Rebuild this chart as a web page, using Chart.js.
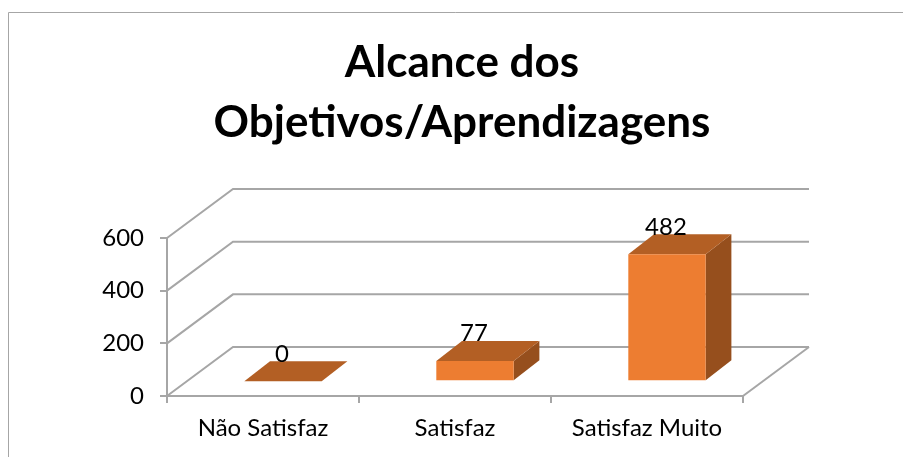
<!DOCTYPE html>
<html>
<head>
<meta charset="utf-8">
<script src="https://cdn.jsdelivr.net/npm/chart.js@4/dist/chart.umd.min.js"></script>
<style>
html,body{margin:0;padding:0;background:#fff;}
canvas{display:block;}
</style>
</head>
<body>
<canvas id="c" width="903" height="457"></canvas>
<script>
const categories = ['Não Satisfaz', 'Satisfaz', 'Satisfaz Muito'];
const values = [0, 77, 482];
const titleLines = ['Alcance dos', 'Objetivos/Aprendizagens'];
const yTickStep = 200;
const yMax = 600;

const FONT = 'Lato, "Open Sans", sans-serif';
const FRONT = '#ED7D31', TOP = '#B35F24', SIDE = '#964F1D', GRID = '#A6A6A6';
const WALL_DX = 66, WALL_DY = 49;      // depth of the floor
const BAR_DX = 20, BAR_DY = 14.7;      // bar's offset into the floor
const DEPTH_DX = 25.7, DEPTH_DY = 20;  // bar's own depth

const poly = (ctx, pts, fill) => {
  ctx.beginPath();
  pts.forEach((p, i) => i ? ctx.lineTo(p[0], p[1]) : ctx.moveTo(p[0], p[1]));
  ctx.closePath();
  ctx.fillStyle = fill;
  ctx.fill();
};

const threeD = {
  id: 'threeD',
  beforeDraw(chart) {
    const ctx = chart.ctx;
    ctx.save();
    ctx.strokeStyle = GRID;
    ctx.lineWidth = 1;
    ctx.beginPath();
    ctx.moveTo(8.5, chart.height);
    ctx.lineTo(8.5, 12.5);
    ctx.lineTo(chart.width, 12.5);
    ctx.stroke();
    ctx.restore();
  },
  beforeDatasetsDraw(chart) {
    const ctx = chart.ctx, a = chart.chartArea, y = chart.scales.y;
    ctx.save();
    ctx.strokeStyle = GRID;
    ctx.lineWidth = 2;
    y.ticks.forEach(t => {
      const py = y.getPixelForValue(t.value);
      ctx.beginPath();
      ctx.moveTo(a.left, py);
      ctx.lineTo(a.left + WALL_DX, py - WALL_DY);
      ctx.lineTo(a.right + WALL_DX, py - WALL_DY);
      ctx.stroke();
    });
    const py0 = y.getPixelForValue(0);
    ctx.beginPath();
    ctx.moveTo(a.right, py0);
    ctx.lineTo(a.right + WALL_DX, py0 - WALL_DY);
    ctx.stroke();

    ctx.translate(BAR_DX, -BAR_DY);
    chart.getDatasetMeta(0).data.forEach(b => {
      const l = b.x - b.width / 2, r = b.x + b.width / 2;
      poly(ctx, [[r, b.y], [r + DEPTH_DX, b.y - DEPTH_DY], [r + DEPTH_DX, b.base - DEPTH_DY], [r, b.base]], SIDE);
      poly(ctx, [[l, b.y], [l + DEPTH_DX, b.y - DEPTH_DY], [r + DEPTH_DX, b.y - DEPTH_DY], [r, b.y]], TOP);
    });
  },
  afterDatasetsDraw(chart) {
    chart.ctx.restore();
  },
  afterDraw(chart) {
    const ctx = chart.ctx;
    ctx.save();
    ctx.fillStyle = '#000';
    ctx.font = '24px ' + FONT;
    ctx.textAlign = 'center';
    ctx.textBaseline = 'middle';
    chart.getDatasetMeta(0).data.forEach((b, i) => {
      ctx.fillText(String(values[i]), b.x + BAR_DX - 1, b.y - BAR_DY - 27.5);
    });
    ctx.restore();
  }
};

new Chart(document.getElementById('c'), {
  type: 'bar',
  data: {
    labels: categories,
    datasets: [{
      data: values,
      backgroundColor: FRONT,
      barPercentage: 1,
      categoryPercentage: 0.403,
      clip: false
    }]
  },
  plugins: [threeD],
  options: {
    responsive: false,
    animation: false,
    events: [],
    layout: { padding: { left: 21, right: 0, top: 0, bottom: 0 } },
    plugins: {
      legend: { display: false },
      tooltip: { enabled: false },
      title: {
        display: true,
        text: titleLines,
        color: '#000',
        font: { family: FONT, size: 44, weight: 'bold', lineHeight: '60px' },
        padding: { top: 33, bottom: 85 }
      }
    },
    scales: {
      x: {
        grid: { drawOnChartArea: false, drawTicks: true, tickLength: 7, color: GRID, lineWidth: 2 },
        border: { color: GRID, width: 2 },
        ticks: { color: '#000', font: { family: FONT, size: 24 }, padding: 11, maxRotation: 0, autoSkip: false },
        afterFit(s) { s.height = 61; }
      },
      y: {
        min: 0,
        max: yMax,
        grid: { drawOnChartArea: false, drawTicks: true, tickLength: 7, color: GRID, lineWidth: 2 },
        border: { color: GRID, width: 2 },
        ticks: { stepSize: yTickStep, color: '#000', font: { family: FONT, size: 24 }, padding: 16 },
        afterFit(s) { s.width = 146; }
      },
      gutter: {
        position: 'right',
        display: true,
        grid: { display: false },
        border: { display: false },
        ticks: { display: false },
        afterFit(s) { s.width = 160; }
      }
    }
  }
});
</script>
</body>
</html>
